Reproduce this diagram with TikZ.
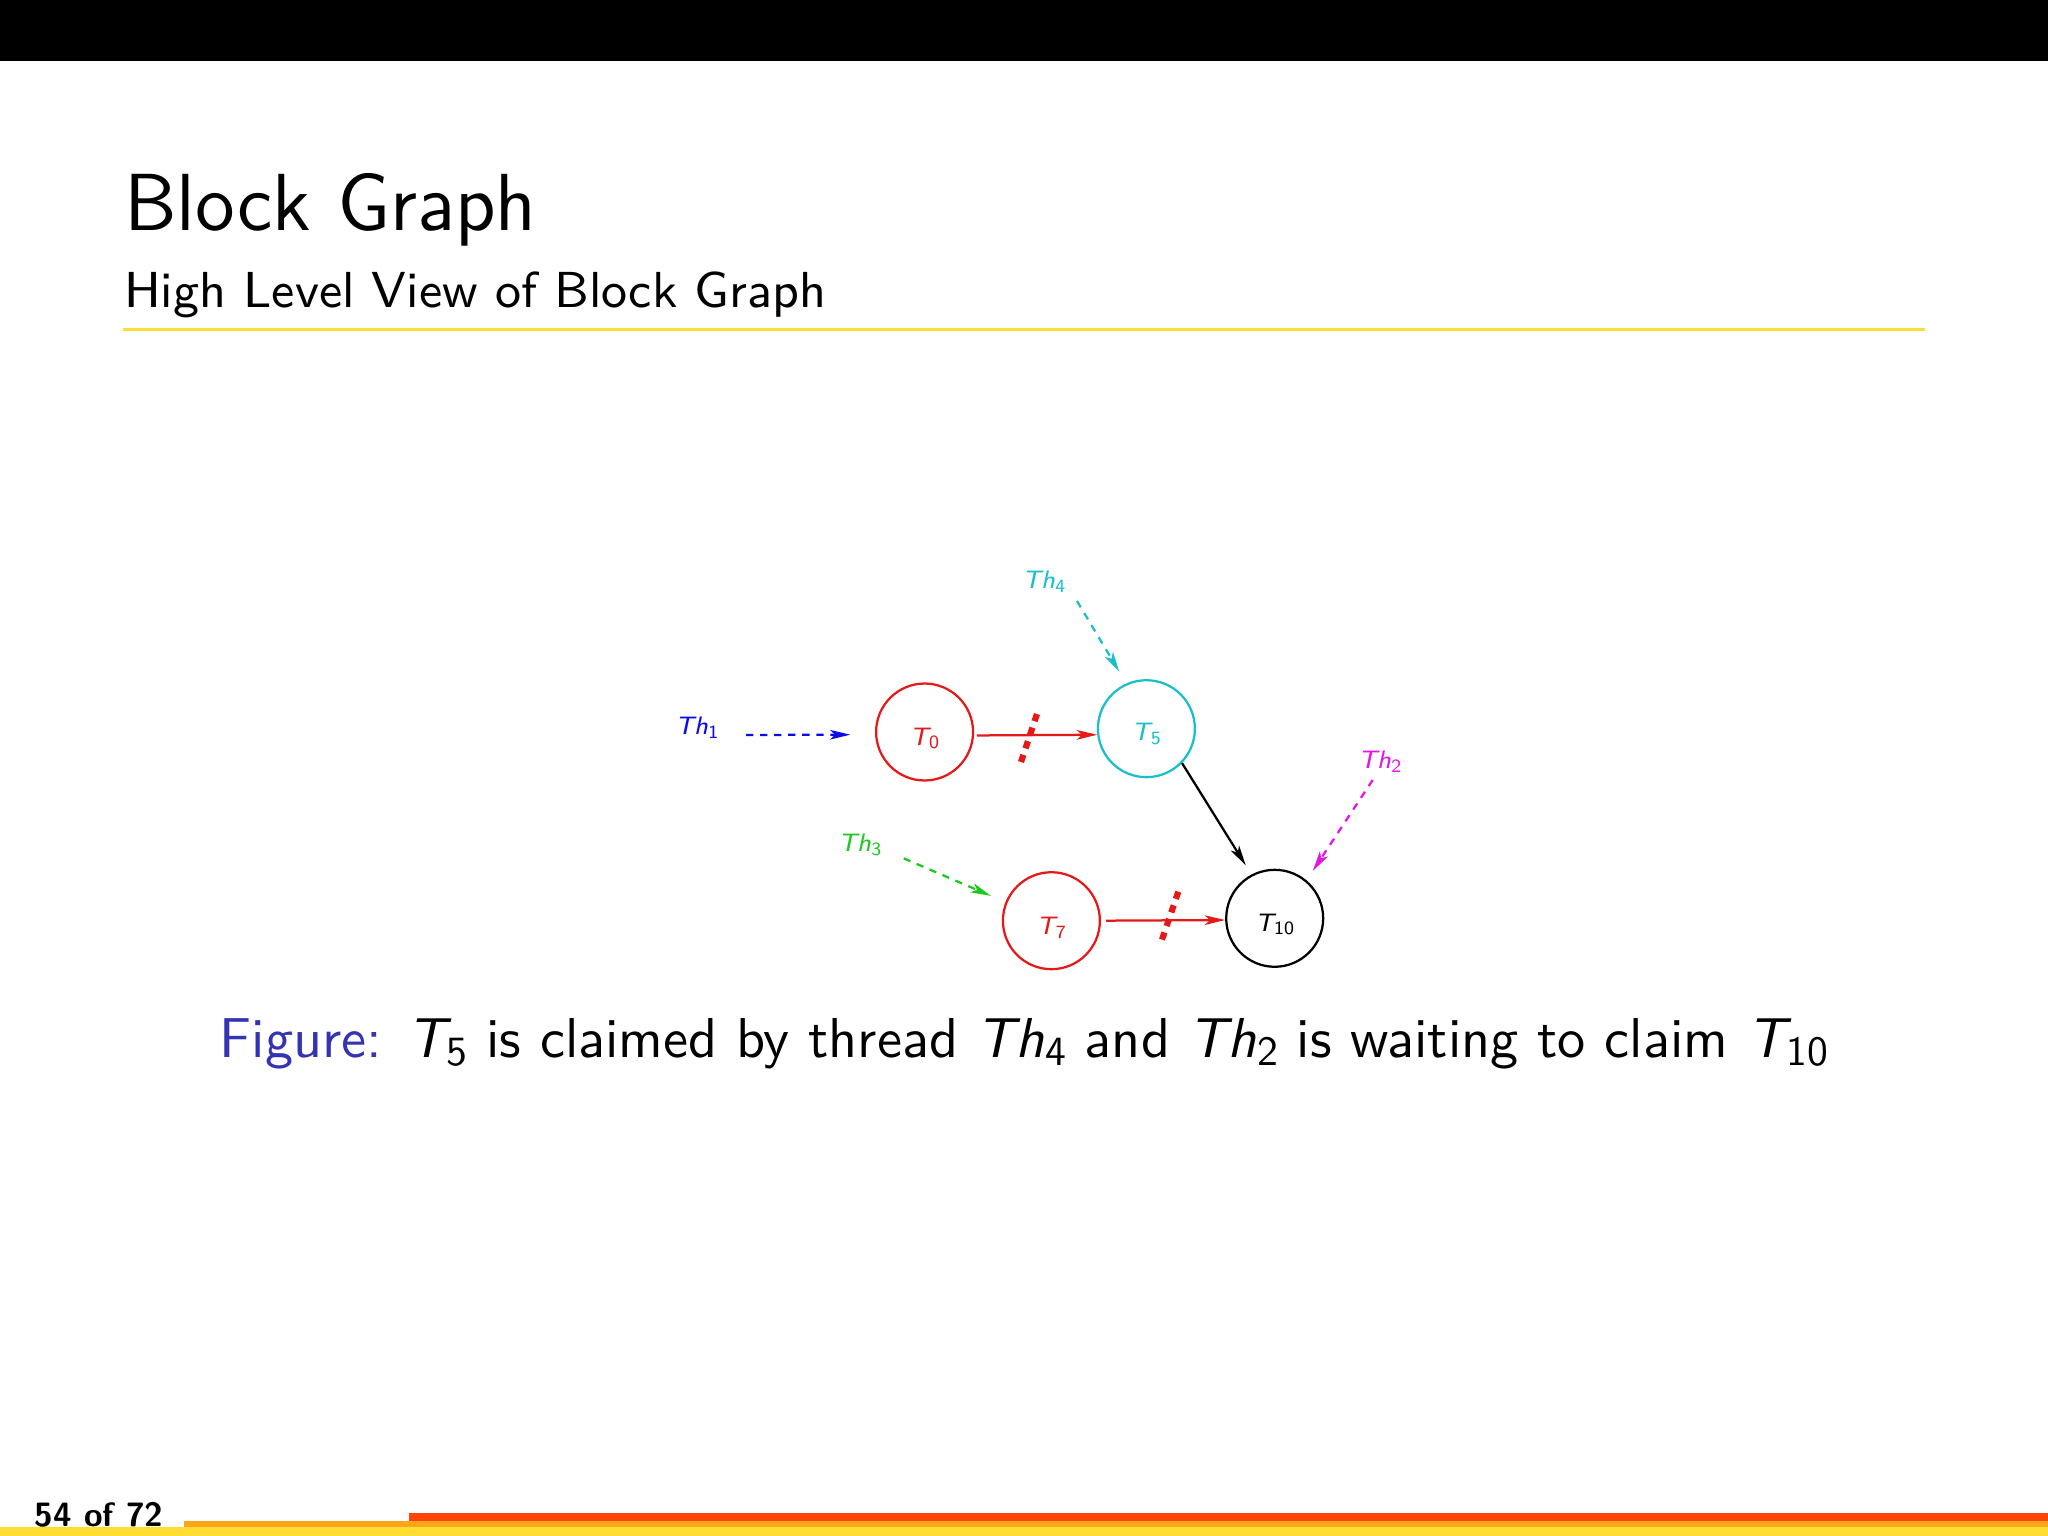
\documentclass[tikz,border=0pt]{standalone}
\usepackage{fontspec}
\usetikzlibrary{arrows.meta,calc}
\definecolor{cBlue}{RGB}{10,10,235}
\definecolor{cCyan}{RGB}{25,192,200}
\definecolor{cGreen}{RGB}{30,200,30}
\definecolor{cMag}{RGB}{230,20,230}
\definecolor{cRed}{RGB}{230,25,25}
\definecolor{cStruct}{RGB}{51,51,179}
\definecolor{cRule}{RGB}{252,222,60}
\definecolor{cFootY}{RGB}{255,221,51}
\definecolor{cFootO}{RGB}{255,165,25}
\definecolor{cFootR}{RGB}{255,70,5}
\newcommand\vsub[2]{{\itshape #1}\kern0.02em\raisebox{-0.33ex}{\scalebox{0.74}{#2}}}
\tikzset{
  circ/.style={circle, draw, line width=0.4pt, minimum size=6.06mm, inner sep=0pt},
  lab/.style={font=\sffamily\fontsize{4.5}{5}\selectfont, inner sep=0pt},
  arr/.style={-{Stealth[length=3.6pt,width=1.7pt,inset=0.9pt]}, line width=0.4pt},
  thr/.style={arr, dash pattern=on 1.3pt off 1.2pt},
  blockmark/.style={draw=cRed, line width=1.1pt, dash pattern=on 1.35pt off 1.2pt},
}
\begin{document}
\begin{tikzpicture}[x=0.0625mm, y=-0.0625mm]
\useasboundingbox (0,0) rectangle (2048,1536);
\fill[white] (0,0) rectangle (2048,1536);
% header
\fill[black] (0,0) rectangle (2048,61);
\node[anchor=base west, inner sep=0pt, font=\sffamily\fontsize{14.4}{17}\selectfont] (title) at (123,230) {Block Graph};
\node[anchor=base west, inner sep=0pt, font=\sffamily\fontsize{9}{11}\selectfont] (subtitle) at (123,308) {High Level View of Block Graph};
\draw[cRule, line width=0.53pt] (123,329.5) -- (1925,329.5);
% footer
\fill[cFootY] (0,1527) rectangle (2048,1536);
\fill[cFootO] (184,1520.7) rectangle (2048,1527);
\fill[cFootR] (409,1513.3) rectangle (2048,1520.7);
\node[anchor=base west, inner sep=0pt, font=\sffamily\bfseries\fontsize{6}{7}\selectfont] (pagenum) at (33.5,1526.7) {54 of 72};
% task nodes
\node[circ, draw=cRed, label={[lab, text=cRed, yshift=-1.15pt]center:\vsub{T}{0}}] (T0) at (924.6,732) {};
\node[circ, draw=cCyan, label={[lab, text=cCyan, yshift=-1.0pt]center:\vsub{T}{5}}] (T5) at (1146.4,728.7) {};
\node[circ, draw=cRed, label={[lab, text=cRed, yshift=-1.3pt]center:\vsub{T}{7}}] (T7) at (1051.4,920.7) {};
\node[circ, draw=black, label={[lab, text=black, yshift=-1.1pt]center:\vsub{T}{10}}] (T10) at (1274.7,918.3) {};
% thread labels
\node[lab, text=cBlue] (Th1) at (697,728) {\vsub{Th}{1}};
\node[lab, text=cCyan] (Th4) at (1044,582) {\vsub{Th}{4}};
\node[lab, text=cMag] (Th2) at (1380,761.7) {\vsub{Th}{2}};
\node[lab, text=cGreen] (Th3) at (860,845) {\vsub{Th}{3}};
\coordinate (th1s) at (746,735);
\coordinate (th4s) at (1077,601);
\coordinate (th2s) at (1372.7,780);
\coordinate (th3s) at (903.7,858.3);
% thread arrows
\draw[thr, cBlue, shorten >=4.4pt] (th1s) -- (T0.183);
\draw[thr, cCyan, shorten >=2.4pt] (th4s) -- (T5.114);
\draw[thr, cMag, shorten >=2pt] (th2s) -- (T10.50);
\draw[thr, cGreen, shorten >=2.8pt] (th3s) -- (T7.158);
% dependency arrows
\draw[arr, cRed, shorten <=0.5pt] (T0.-4) -- (T5.187);
\draw[arr, cRed, shorten <=0.9pt] (T7.east) -- (T10.182);
\draw[arr, black, shorten >=1.9pt] (T5.-44) -- (T10.118);
% block marks
\draw[blockmark] (1037,714) -- (1021,762);
\draw[blockmark] (1178.3,891.7) -- (1161.3,941.7);
% caption
\node[anchor=base, inner sep=0pt, font=\sffamily\fontsize{10}{12}\selectfont] (caption) at (1024,1057)
  {\textcolor{cStruct}{Figure:} \vsub{T}{5} is claimed by thread \vsub{Th}{4} and \vsub{Th}{2} is waiting to claim \vsub{T}{10}};
\end{tikzpicture}
\end{document}
